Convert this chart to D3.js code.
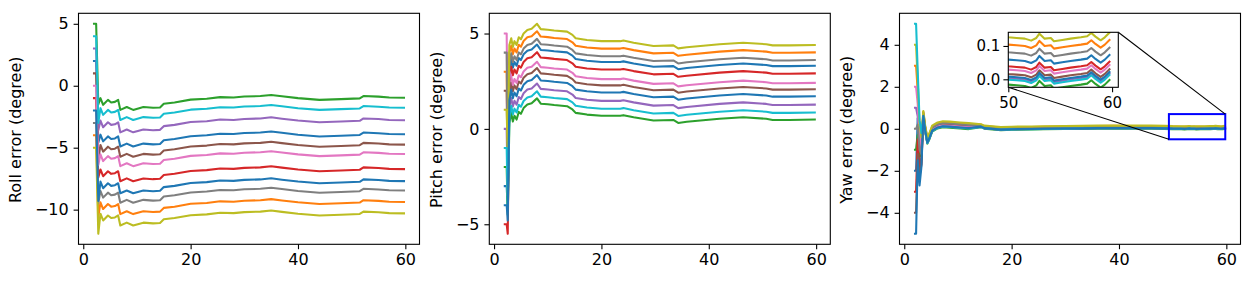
<!DOCTYPE html>
<html><head><meta charset="utf-8">
<script src="https://cdn.jsdelivr.net/npm/d3@7"></script>
<style>body{margin:0;background:#fff}svg{display:block}</style>
</head><body><svg id="c" width="1254" height="282"></svg>
<script>
// ---------------- data ----------------
const tab10 = ["#1f77b4","#ff7f0e","#2ca02c","#d62728","#9467bd","#8c564b","#e377c2","#7f7f7f","#bcbd22","#17becf"];
const xTicks = [0, 20, 40, 60];
const rollTicks = [-10, -5, 0, 5];
const pitchTicks = [-5, 0, 5];
const yawTicks = [-4, -2, 0, 2, 4];
const insetXTicks = [50, 60];
const insetYTicks = [0.0, 0.1];
const insetXRange = [50, 60.6];
const insetYRange = [-0.024, 0.141];
const zoomBoxX = [49.3, 59.8];
const zoomBoxY = [-0.5, 0.7];
const axisLabels = ["Roll error (degree)", "Pitch error (degree)", "Yaw error (degree)"];

const rollTime = [2.0, 2.4, 2.8, 3.2, 3.7, 4.6, 5.2, 5.9, 6.5, 6.9, 8.1, 9.3, 11.2, 13, 14.3, 15, 17, 20, 23, 25.5, 28, 30, 33, 35, 37, 40, 44, 48, 51.5, 52.2, 55, 57, 59.75];
const rollValues = [
 [2, 2, -4.6, -3.95, -4.49, -4.09, -4.3, -4.25, -4.09, -4.9, -4.67, -4.9, -4.67, -4.73, -4.7, -4.4, -4.3, -4.07, -4.0, -3.87, -3.9, -3.82, -3.78, -3.69, -3.8, -3.95, -4.09, -4.03, -3.97, -3.78, -3.83, -3.9, -3.92],
 [-4, -4, -10.6, -9.41, -9.95, -9.55, -9.76, -9.71, -9.55, -10.36, -10.13, -10.36, -10.13, -10.19, -10.16, -9.86, -9.76, -9.53, -9.46, -9.33, -9.36, -9.28, -9.24, -9.15, -9.26, -9.41, -9.55, -9.49, -9.43, -9.24, -9.29, -9.36, -9.38],
 [5, 5, -1.5, -1.0, -1.54, -1.14, -1.35, -1.3, -1.14, -1.95, -1.72, -1.95, -1.72, -1.78, -1.75, -1.45, -1.35, -1.12, -1.05, -0.92, -0.95, -0.87, -0.83, -0.74, -0.85, -1.0, -1.14, -1.08, -1.02, -0.83, -0.88, -0.95, -0.97],
 [-1, -1, -7.4, -6.76, -7.3, -6.9, -7.11, -7.06, -6.9, -7.71, -7.48, -7.71, -7.48, -7.54, -7.51, -7.21, -7.11, -6.88, -6.81, -6.68, -6.71, -6.63, -6.59, -6.5, -6.61, -6.76, -6.9, -6.84, -6.78, -6.59, -6.64, -6.71, -6.73],
 [3, 3, -3.6, -2.81, -3.35, -2.95, -3.16, -3.11, -2.95, -3.76, -3.53, -3.76, -3.53, -3.59, -3.56, -3.26, -3.16, -2.93, -2.86, -2.73, -2.76, -2.68, -2.64, -2.55, -2.66, -2.81, -2.95, -2.89, -2.83, -2.64, -2.69, -2.76, -2.78],
 [1, 1, -6.0, -4.78, -5.32, -4.92, -5.13, -5.08, -4.92, -5.73, -5.5, -5.73, -5.5, -5.56, -5.53, -5.23, -5.13, -4.9, -4.83, -4.7, -4.73, -4.65, -4.61, -4.52, -4.63, -4.78, -4.92, -4.86, -4.8, -4.61, -4.66, -4.73, -4.75],
 [0, 0, -6.4, -5.54, -6.08, -5.68, -5.89, -5.84, -5.68, -6.49, -6.26, -6.49, -6.26, -6.32, -6.29, -5.99, -5.89, -5.66, -5.59, -5.46, -5.49, -5.41, -5.37, -5.28, -5.39, -5.54, -5.68, -5.62, -5.56, -5.37, -5.42, -5.49, -5.51],
 [-3, -3, -9.5, -8.49, -9.03, -8.63, -8.84, -8.79, -8.63, -9.44, -9.21, -9.44, -9.21, -9.27, -9.24, -8.94, -8.84, -8.61, -8.54, -8.41, -8.44, -8.36, -8.32, -8.23, -8.34, -8.49, -8.63, -8.57, -8.51, -8.32, -8.37, -8.44, -8.46],
 [-5, -5, -11.95, -10.33, -10.87, -10.47, -10.68, -10.63, -10.47, -11.28, -11.05, -11.28, -11.05, -11.11, -11.08, -10.78, -10.68, -10.45, -10.38, -10.25, -10.28, -10.2, -10.16, -10.07, -10.18, -10.33, -10.47, -10.41, -10.35, -10.16, -10.21, -10.28, -10.3],
 [4, 4, -3.0, -1.81, -2.35, -1.95, -2.16, -2.11, -1.95, -2.76, -2.53, -2.76, -2.53, -2.59, -2.56, -2.26, -2.16, -1.93, -1.86, -1.73, -1.76, -1.68, -1.64, -1.55, -1.66, -1.81, -1.95, -1.89, -1.83, -1.64, -1.69, -1.76, -1.78],
 [-2, -2, -9.3, -7.73, -8.27, -7.87, -8.08, -8.03, -7.87, -8.68, -8.45, -8.68, -8.45, -8.51, -8.48, -8.18, -8.08, -7.85, -7.78, -7.65, -7.68, -7.6, -7.56, -7.47, -7.58, -7.73, -7.87, -7.81, -7.75, -7.56, -7.61, -7.68, -7.7]
];

const pitchTime = [2.0, 2.35, 2.55, 2.85, 3.2, 3.5, 3.8, 4.2, 4.6, 5.0, 5.5, 6.2, 7.0, 8.0, 8.7, 10, 11.2, 13.6, 14.6, 15.2, 17.3, 20, 23.5, 24.1, 26, 29.7, 33.4, 34.3, 35.9, 42, 46.4, 50.7, 51.9, 55, 59.75];
const pitchValues = [
 [-3, -3, -4.2, 3.0, 3.66, 3.21, 3.51, 3.31, 3.71, 3.61, 3.91, 4.1, 4.16, 4.42, 4.14, 4.11, 4.07, 4.01, 3.84, 3.66, 3.57, 3.51, 3.51, 3.54, 3.43, 3.26, 3.29, 3.13, 3.19, 3.35, 3.43, 3.35, 3.29, 3.29, 3.31],
 [3, 3, -2.5, 4.0, 4.36, 3.91, 4.21, 4.01, 4.41, 4.31, 4.61, 4.8, 4.86, 5.12, 4.84, 4.81, 4.77, 4.71, 4.54, 4.36, 4.27, 4.21, 4.21, 4.24, 4.13, 3.96, 3.99, 3.83, 3.89, 4.05, 4.13, 4.05, 3.99, 3.99, 4.01],
 [-2, -2, -4.5, 0.3, 0.84, 0.39, 0.69, 0.49, 0.89, 0.79, 1.09, 1.28, 1.34, 1.6, 1.32, 1.29, 1.25, 1.19, 1.02, 0.84, 0.75, 0.69, 0.69, 0.72, 0.61, 0.44, 0.47, 0.31, 0.37, 0.53, 0.61, 0.53, 0.47, 0.47, 0.49],
 [-5, -5, -5.5, 2.5, 3.26, 2.81, 3.11, 2.91, 3.31, 3.21, 3.51, 3.7, 3.76, 4.02, 3.74, 3.71, 3.67, 3.61, 3.44, 3.26, 3.17, 3.11, 3.11, 3.14, 3.03, 2.86, 2.89, 2.73, 2.79, 2.95, 3.03, 2.95, 2.89, 2.89, 2.91],
 [0, 0, -3.5, 1.2, 1.62, 1.17, 1.47, 1.27, 1.67, 1.57, 1.87, 2.06, 2.12, 2.38, 2.1, 2.07, 2.03, 1.97, 1.8, 1.62, 1.53, 1.47, 1.47, 1.5, 1.39, 1.22, 1.25, 1.09, 1.15, 1.31, 1.39, 1.31, 1.25, 1.25, 1.27],
 [2, 2, -3.0, 1.8, 2.43, 1.98, 2.28, 2.08, 2.48, 2.38, 2.68, 2.87, 2.93, 3.19, 2.91, 2.88, 2.84, 2.78, 2.61, 2.43, 2.34, 2.28, 2.28, 2.31, 2.2, 2.03, 2.06, 1.9, 1.96, 2.12, 2.2, 2.12, 2.06, 2.06, 2.08],
 [5, 5, -1.0, 3.0, 2.76, 2.31, 2.61, 2.41, 2.81, 2.71, 3.01, 3.2, 3.26, 3.52, 3.24, 3.21, 3.17, 3.11, 2.94, 2.76, 2.67, 2.61, 2.61, 2.64, 2.53, 2.36, 2.39, 2.23, 2.29, 2.45, 2.53, 2.45, 2.39, 2.39, 2.41],
 [4, 4, -2.0, 3.5, 3.96, 3.51, 3.81, 3.61, 4.01, 3.91, 4.21, 4.4, 4.46, 4.72, 4.44, 4.41, 4.37, 4.31, 4.14, 3.96, 3.87, 3.81, 3.81, 3.84, 3.73, 3.56, 3.59, 3.43, 3.49, 3.65, 3.73, 3.65, 3.59, 3.59, 3.61],
 [1, 1, -1.5, 4.4, 4.75, 4.3, 4.6, 4.4, 4.8, 4.7, 5.0, 5.19, 5.25, 5.51, 5.23, 5.2, 5.16, 5.1, 4.93, 4.75, 4.66, 4.6, 4.6, 4.63, 4.52, 4.35, 4.38, 4.22, 4.28, 4.44, 4.52, 4.44, 4.38, 4.38, 4.4],
 [-1, -1, -4.0, 0.6, 1.21, 0.76, 1.06, 0.86, 1.26, 1.16, 1.46, 1.65, 1.71, 1.97, 1.69, 1.66, 1.62, 1.56, 1.39, 1.21, 1.12, 1.06, 1.06, 1.09, 0.98, 0.81, 0.84, 0.68, 0.74, 0.9, 0.98, 0.9, 0.84, 0.84, 0.86],
 [-4, -4, -4.8, 1.5, 2.06, 1.61, 1.91, 1.71, 2.11, 2.01, 2.31, 2.5, 2.56, 2.82, 2.54, 2.51, 2.47, 2.41, 2.24, 2.06, 1.97, 1.91, 1.91, 1.94, 1.83, 1.66, 1.69, 1.53, 1.59, 1.75, 1.83, 1.75, 1.69, 1.69, 1.71]
];

const yawTime = [2.0, 2.2, 2.5, 2.85, 3.2, 3.55, 3.9, 4.3, 4.7, 5.2, 6.2, 7.2, 8.5, 10.4, 12, 14.3, 14.9, 18, 20, 23.7, 26, 29.9, 33, 36, 39, 42.4, 46, 48.5, 50.0, 50.8, 51.6, 52.2, 52.7, 53.0, 53.5, 54.1, 54.4, 55.2, 56.0, 57.0, 57.6, 58.0, 58.4, 58.9, 59.3, 59.75];
const yawValues = [
 [-2, -2, 0.5, -2.0, -1.4, 0.716, 0.016, -0.554, -0.334, 0.016, 0.166, 0.226, 0.206, 0.166, 0.136, 0.153, 0.083, 0.013, 0.033, 0.043, 0.053, 0.063, 0.073, 0.083, 0.093, 0.083, 0.083, 0.073, 0.059, 0.057, 0.055, 0.049, 0.057, 0.07, 0.055, 0.057, 0.047, 0.051, 0.055, 0.059, 0.062, 0.072, 0.061, 0.05, 0.059, 0.073],
 [3, 3, 1.8, 0.0, -0.6, 0.806, 0.106, -0.464, -0.244, 0.106, 0.256, 0.316, 0.296, 0.256, 0.226, 0.198, 0.128, 0.058, 0.078, 0.088, 0.098, 0.108, 0.118, 0.128, 0.138, 0.128, 0.128, 0.118, 0.104, 0.102, 0.1, 0.094, 0.102, 0.115, 0.1, 0.102, 0.092, 0.096, 0.1, 0.104, 0.107, 0.117, 0.106, 0.095, 0.104, 0.118],
 [-1, -1, -0.3, -1.3, -1.3, 0.566, -0.134, -0.704, -0.484, -0.134, 0.016, 0.076, 0.056, 0.016, -0.014, 0.078, 0.008, -0.062, -0.042, -0.032, -0.022, -0.012, -0.002, 0.008, 0.018, 0.008, 0.008, -0.002, -0.016, -0.018, -0.02, -0.026, -0.018, -0.005, -0.02, -0.018, -0.028, -0.024, -0.02, -0.016, -0.013, -0.003, -0.014, -0.025, -0.016, -0.002],
 [-3, -3, -0.5, -2.3, -1.6, 0.676, -0.024, -0.594, -0.374, -0.024, 0.126, 0.186, 0.166, 0.126, 0.096, 0.133, 0.063, -0.007, 0.013, 0.023, 0.033, 0.043, 0.053, 0.063, 0.073, 0.063, 0.063, 0.053, 0.039, 0.037, 0.035, 0.029, 0.037, 0.05, 0.035, 0.037, 0.027, 0.031, 0.035, 0.039, 0.042, 0.052, 0.041, 0.03, 0.039, 0.053],
 [1, 1, 0.6, -0.6, -1.0, 0.606, -0.094, -0.664, -0.444, -0.094, 0.056, 0.116, 0.096, 0.056, 0.026, 0.098, 0.028, -0.042, -0.022, -0.012, -0.002, 0.008, 0.018, 0.028, 0.038, 0.028, 0.028, 0.018, 0.004, 0.002, 0.0, -0.006, 0.002, 0.015, 0.0, 0.002, -0.008, -0.004, 0.0, 0.004, 0.007, 0.017, 0.006, -0.005, 0.004, 0.018],
 [-4, -4, -1.2, -2.2, -1.7, 0.63, -0.07, -0.64, -0.42, -0.07, 0.08, 0.14, 0.12, 0.08, 0.05, 0.11, 0.04, -0.03, -0.01, 0.0, 0.01, 0.02, 0.03, 0.04, 0.05, 0.04, 0.04, 0.03, 0.016, 0.014, 0.012, 0.006, 0.014, 0.027, 0.012, 0.014, 0.004, 0.008, 0.012, 0.016, 0.019, 0.029, 0.018, 0.007, 0.016, 0.03],
 [2, 2, 1.2, -0.3, -0.8, 0.656, -0.044, -0.614, -0.394, -0.044, 0.106, 0.166, 0.146, 0.106, 0.076, 0.123, 0.053, -0.017, 0.003, 0.013, 0.023, 0.033, 0.043, 0.053, 0.063, 0.053, 0.053, 0.043, 0.029, 0.027, 0.025, 0.019, 0.027, 0.04, 0.025, 0.027, 0.017, 0.021, 0.025, 0.029, 0.032, 0.042, 0.031, 0.02, 0.029, 0.043],
 [0, 0, 0.2, -1.0, -1.2, 0.76, 0.06, -0.51, -0.29, 0.06, 0.21, 0.27, 0.25, 0.21, 0.18, 0.175, 0.105, 0.035, 0.055, 0.065, 0.075, 0.085, 0.095, 0.105, 0.115, 0.105, 0.105, 0.095, 0.081, 0.079, 0.077, 0.071, 0.079, 0.092, 0.077, 0.079, 0.069, 0.073, 0.077, 0.081, 0.084, 0.094, 0.083, 0.072, 0.081, 0.095],
 [4, 4, 2.3, 0.2, -0.4, 0.85, 0.15, -0.42, -0.2, 0.15, 0.3, 0.36, 0.34, 0.3, 0.27, 0.22, 0.15, 0.08, 0.1, 0.11, 0.12, 0.13, 0.14, 0.15, 0.16, 0.15, 0.15, 0.14, 0.126, 0.124, 0.122, 0.116, 0.124, 0.137, 0.122, 0.124, 0.114, 0.118, 0.122, 0.126, 0.129, 0.139, 0.128, 0.117, 0.126, 0.14],
 [5, 5, 2.8, 0.4, -0.2, 0.596, -0.104, -0.674, -0.454, -0.104, 0.046, 0.106, 0.086, 0.046, 0.016, 0.093, 0.023, -0.047, -0.027, -0.017, -0.007, 0.003, 0.013, 0.023, 0.033, 0.023, 0.023, 0.013, -0.001, -0.003, -0.005, -0.011, -0.003, 0.01, -0.005, -0.003, -0.013, -0.009, -0.005, -0.001, 0.002, 0.012, 0.001, -0.01, -0.001, 0.013],
 [-5, -5, -1.5, -2.7, -1.8, 0.614, -0.086, -0.656, -0.436, -0.086, 0.064, 0.124, 0.104, 0.064, 0.034, 0.102, 0.032, -0.038, -0.018, -0.008, 0.002, 0.012, 0.022, 0.032, 0.042, 0.032, 0.032, 0.022, 0.008, 0.006, 0.004, -0.002, 0.006, 0.019, 0.004, 0.006, -0.004, 0.0, 0.004, 0.008, 0.011, 0.021, 0.01, -0.001, 0.008, 0.022]
];

// ---------------- drawing ----------------
const svg = d3.select("#c");
const FONT = "DejaVu Sans";
const LW = 2.08;
const SPINE = 1.1;
const TICK = 4.9;
const PAD = 4.9;

const panels = [
  {left: 78.5, labelOff: 57.5, time: rollTime, values: rollValues, yTicks: rollTicks, label: axisLabels[0]},
  {left: 489.3, labelOff: 47.6, time: pitchTime, values: pitchValues, yTicks: pitchTicks, label: axisLabels[1]},
  {left: 899.5, labelOff: 47.6, time: yawTime, values: yawValues, yTicks: yawTicks, label: axisLabels[2]}
];
const TOP = 13.3, HEIGHT = 231, WIDTH = 341;

function styleAxis(g, fs) {
  g.select(".domain").remove();
  g.selectAll(".tick line").attr("stroke", "#000").attr("stroke-width", SPINE);
  g.selectAll("text").attr("font-family", FONT).attr("font-size", fs).attr("fill", "#000");
}

function drawLines(g, x, y, time, values, clipId) {
  const line = d3.line().x((d, i) => x(time[i])).y(d => y(d));
  g.append("g").attr("clip-path", `url(#${clipId})`)
    .selectAll("path").data(values).join("path")
    .attr("d", d => line(d))
    .attr("fill", "none")
    .attr("stroke", (d, i) => tab10[i % 10])
    .attr("stroke-width", LW)
    .attr("stroke-linejoin", "round")
    .attr("stroke-linecap", "square");
}

const defs = svg.append("defs");
const scales = [];
panels.forEach((p, k) => {
  const xmin = d3.min(p.time), xmax = d3.max(p.time);
  const all = p.values.flat();
  const ymin = d3.min(all), ymax = d3.max(all);
  const mx = (xmax - xmin) * 0.05, my = (ymax - ymin) * 0.05;
  const x = d3.scaleLinear([xmin - mx, xmax + mx], [p.left, p.left + WIDTH]);
  const y = d3.scaleLinear([ymin - my, ymax + my], [TOP + HEIGHT, TOP]);
  scales.push({x, y});
  const cid = "clip" + k;
  defs.append("clipPath").attr("id", cid).append("rect")
    .attr("x", p.left).attr("y", TOP).attr("width", WIDTH).attr("height", HEIGHT);
  const g = svg.append("g");
  drawLines(g, x, y, p.time, p.values, cid);
  g.append("rect").attr("x", p.left).attr("y", TOP).attr("width", WIDTH).attr("height", HEIGHT)
    .attr("fill", "none").attr("stroke", "#000").attr("stroke-width", SPINE);
  const ax = g.append("g").attr("transform", `translate(0,${TOP + HEIGHT})`)
    .call(d3.axisBottom(x).tickValues(xTicks).tickSize(TICK).tickPadding(PAD).tickFormat(d3.format("d")));
  styleAxis(ax, 16);
  const ay = g.append("g").attr("transform", `translate(${p.left},0)`)
    .call(d3.axisLeft(y).tickValues(p.yTicks).tickSize(TICK).tickPadding(PAD).tickFormat(d3.format("d")));
  styleAxis(ay, 16);
  g.append("text")
    .attr("transform", `translate(${p.left - p.labelOff},${TOP + HEIGHT / 2 + 1}) rotate(-90)`)
    .attr("text-anchor", "middle")
    .attr("font-family", FONT).attr("font-size", 16).attr("fill", "#000")
    .text(p.label);
});

// zoom box on yaw panel
const yx = scales[2].x, yy = scales[2].y;
const bx0 = yx(zoomBoxX[0]), bx1 = yx(zoomBoxX[1]), by0 = yy(zoomBoxY[1]), by1 = yy(zoomBoxY[0]);
svg.append("rect").attr("x", bx0).attr("y", by0).attr("width", bx1 - bx0).attr("height", by1 - by0)
  .attr("fill", "none").attr("stroke", "#0000ff").attr("stroke-width", 2);

// inset
const IN = {left: 1008.3, top: 32.3, width: 110, height: 55};
const ix = d3.scaleLinear(insetXRange, [IN.left, IN.left + IN.width]);
const iy = d3.scaleLinear(insetYRange, [IN.top + IN.height, IN.top]);
svg.append("line").attr("x1", IN.left + IN.width).attr("y1", IN.top).attr("x2", bx1).attr("y2", by0)
  .attr("stroke", "#000").attr("stroke-width", 1.1);
svg.append("line").attr("x1", IN.left).attr("y1", IN.top + IN.height).attr("x2", bx0).attr("y2", by1)
  .attr("stroke", "#000").attr("stroke-width", 1.1);
const gi = svg.append("g");
gi.append("rect").attr("x", IN.left).attr("y", IN.top).attr("width", IN.width).attr("height", IN.height).attr("fill", "#fff");
defs.append("clipPath").attr("id", "clipIn").append("rect")
  .attr("x", IN.left).attr("y", IN.top).attr("width", IN.width).attr("height", IN.height);
drawLines(gi, ix, iy, yawTime, yawValues, "clipIn");
gi.append("rect").attr("x", IN.left).attr("y", IN.top).attr("width", IN.width).attr("height", IN.height)
  .attr("fill", "none").attr("stroke", "#000").attr("stroke-width", SPINE);
const iax = gi.append("g").attr("transform", `translate(0,${IN.top + IN.height})`)
  .call(d3.axisBottom(ix).tickValues(insetXTicks).tickSize(TICK).tickPadding(PAD).tickFormat(d3.format("d")));
styleAxis(iax, 15);
const iay = gi.append("g").attr("transform", `translate(${IN.left},0)`)
  .call(d3.axisLeft(iy).tickValues(insetYTicks).tickSize(TICK).tickPadding(3).tickFormat(d3.format(".1f")));
styleAxis(iay, 15);
</script>
</body></html>
